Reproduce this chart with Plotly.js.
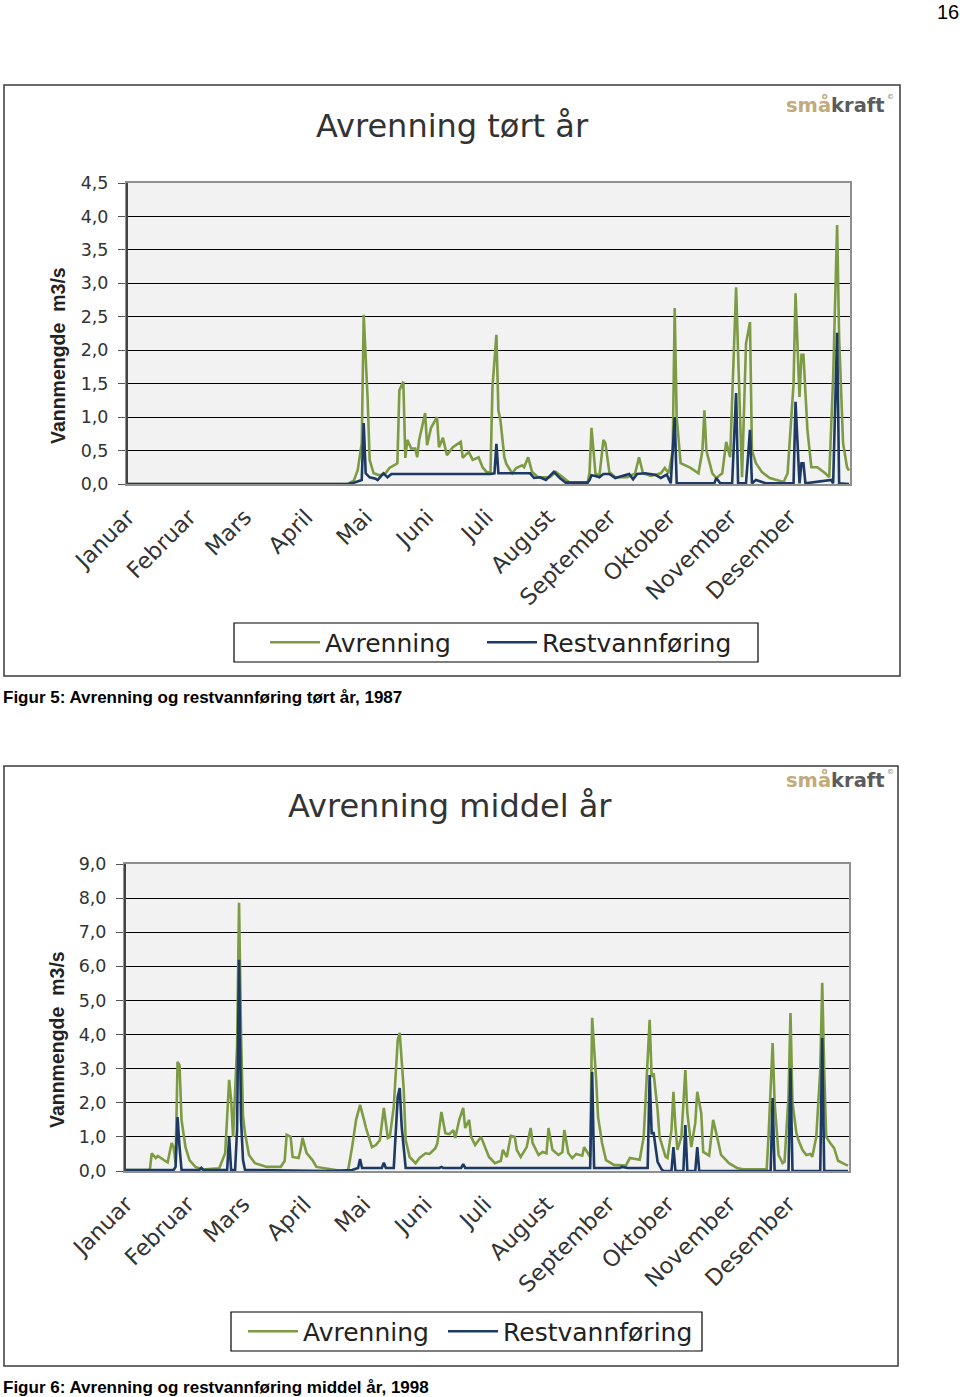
<!DOCTYPE html>
<html>
<head>
<meta charset="utf-8">
<script src="https://cdn.plot.ly/plotly-3.0.1.min.js"></script>
<style>
html,body{margin:0;padding:0;background:#fff;}
#chart{width:960px;height:1397px;}
</style>
</head>
<body>
<div id="chart"></div>
<script>
// ---------- DATA ----------
const months = ['Januar','Februar','Mars','April','Mai','Juni','Juli','August','September','Oktober','November','Desember'];
const monthStartDay = [1,32,60,91,121,152,182,213,244,274,305,335];

// Figur 5 – tørt år 1987 (day of year, m3/s)
const dryAvrDays = [1,112,115,117,119,120,122,123,125,128,131,133,137,138,140,141,142,144,146,147,148,151,152,154,157,158,160,162,165,169,170,173,175,178,180,182,184,185,187,188,189,191,192,195,197,200,201,203,205,208,214,217,221,224,233,234,235,237,239,241,242,244,247,253,257,259,261,265,270,272,274,276,277,278,280,285,289,291,292,293,296,298,301,303,305,306,308,310,311,313,315,316,318,321,325,332,334,337,338,340,341,342,344,346,349,353,355,357,359,360,362,364,365];
const dryAvr = [0,0,0.05,0.21,0.61,2.53,1.26,0.36,0.16,0.13,0.16,0.24,0.31,1.4,1.53,0.39,0.66,0.53,0.53,0.40,0.66,1.06,0.58,0.84,1.0,0.55,0.69,0.43,0.55,0.63,0.39,0.48,0.36,0.40,0.25,0.18,0.17,1.45,2.23,1.1,0.96,0.4,0.3,0.16,0.24,0.28,0.25,0.4,0.18,0.1,0.1,0.18,0.09,0.02,0.02,0.16,0.84,0.16,0.12,0.66,0.61,0.18,0.1,0.1,0.16,0.4,0.16,0.12,0.16,0.24,0.16,0.5,2.63,1.0,0.31,0.24,0.16,0.5,1.1,0.5,0.16,0.09,0.16,0.63,0.4,1.26,2.94,1.0,0.1,2.1,2.42,0.5,0.31,0.18,0.09,0.03,0.16,1.5,2.85,1.3,1.93,1.93,0.81,0.25,0.25,0.16,0.1,1.6,3.87,2.2,0.61,0.25,0.2];
const dryRestDays = [1,112,115,119,120,121,123,126,127,130,132,134,184,186,187,188,204,206,209,212,216,219,222,233,234,235,237,239,241,244,247,251,254,256,258,262,267,270,273,275,277,278,297,298,300,306,308,309,313,315,316,318,323,337,338,340,341,342,343,356,357,359,360,365];
const dryRest = [0,0,0.02,0.06,0.91,0.16,0.1,0.08,0.06,0.16,0.1,0.15,0.15,0.16,0.6,0.16,0.16,0.09,0.1,0.06,0.18,0.09,0.02,0.02,0.06,0.13,0.12,0.1,0.15,0.15,0.09,0.12,0.15,0.07,0.15,0.16,0.14,0.09,0.14,0.01,1.0,0.01,0.01,0.09,0.01,0.01,1.36,0.01,0.01,0.81,0.01,0.06,0.01,0.01,1.23,0.01,0.31,0.31,0.01,0.06,0.01,2.26,0.01,0];

// Figur 6 – middel år 1998
const midAvrDays = [1,10,13,14,16,17,20,22,24,25,26,27,28,29,31,33,36,40,43,48,51,53,54,55,57,58,59,60,61,63,66,72,79,81,82,84,85,88,89,90,92,95,97,104,110,113,115,117,119,121,122,125,127,129,131,133,134,136,138,139,141,142,144,147,149,152,154,157,158,160,162,164,166,167,169,171,172,174,175,177,180,182,184,187,190,191,193,195,197,198,200,203,205,206,209,211,213,214,216,219,221,222,224,226,228,231,232,235,236,238,239,241,243,247,251,253,255,258,260,262,263,265,266,267,269,270,273,274,276,277,278,279,281,283,284,286,288,289,291,292,295,297,299,301,305,309,312,324,325,327,328,330,332,333,335,336,337,339,340,342,344,346,347,349,351,352,353,354,356,358,360,362,364,365];
const midAvr = [0.03,0.02,0.03,0.52,0.38,0.44,0.32,0.25,0.82,0.7,0.23,3.2,3.1,1.5,0.7,0.32,0.12,0.04,0.06,0.08,0.52,2.67,2.08,1.0,3.64,7.86,4.0,1.6,1.11,0.47,0.23,0.12,0.12,0.3,1.06,1.0,0.41,0.38,0.62,0.97,0.53,0.32,0.12,0.05,0,0.03,0.7,1.5,1.94,1.5,1.26,0.7,0.76,0.91,1.85,0.97,1.0,1.88,3.84,4.05,2.4,0.91,0.41,0.23,0.38,0.52,0.5,0.67,0.82,1.73,1.11,1.08,1.2,0.97,1.5,1.85,1.26,1.5,1.0,0.76,1.0,0.7,0.41,0.23,0.3,0.62,0.41,1.03,1.0,0.62,0.41,0.7,1.26,0.82,0.47,0.56,0.52,1.26,0.62,0.47,0.55,1.2,0.52,0.38,0.5,0.45,0.7,0.41,4.49,2.7,1.58,0.82,0.32,0.18,0.18,0.16,0.38,0.36,0.33,1.0,2.17,4.43,2.76,2.87,1.79,1.0,0.42,0.38,1.2,2.32,1.29,0.62,1.0,2.96,1.7,0.7,1.41,2.32,1.7,0.56,0.45,1.5,1.0,0.47,0.23,0.09,0.05,0.05,1.11,3.75,2.0,0.47,0.23,0.27,2.17,4.63,2.0,1.11,0.91,0.62,0.47,0.5,0.42,1.0,2.96,5.52,2.96,1.0,0.82,0.67,0.3,0.23,0.18,0.16];
const midRestDays = [1,25,26,27,28,29,38,39,40,52,53,54,56,57,58,59,60,61,104,115,118,119,120,130,131,132,136,138,139,140,142,159,160,161,170,171,172,235,236,237,250,251,254,264,265,266,267,269,271,272,276,277,278,282,283,284,288,289,290,326,327,328,335,336,337,351,352,353,365];
const midRest = [0.03,0.03,0.12,1.58,0.7,0.03,0.03,0.09,0.03,0.03,1.0,0.03,0.03,1.2,6.19,1.5,0.32,0.03,0,0.03,0.09,0.35,0.09,0.09,0.24,0.09,0.09,2.17,2.43,1.29,0.09,0.09,0.12,0.09,0.09,0.2,0.09,0.09,2.9,0.09,0.09,0.12,0.09,0.09,2.81,1.11,1.11,0.27,0.05,0,0,0.7,0,0,1.35,0,0,0.7,0,0,2.14,0,0,3.02,0,0,3.9,0,0];

// ---------- STYLE ----------
const W = 960, H = 1397;
const X = p => p / W;
const Y = p => 1 - p / H;
const green = '#7d9b42', navy = '#1c3a63';
const chartFont = 'DejaVu Sans, Liberation Sans, sans-serif';
const tickFont = {family: chartFont, size: 17.5, color: '#333'};
const monthFont = {family: chartFont, size: 22.5, color: '#333'};

function xAxis(l, r, anchor) {
  return {domain: [X(l), X(r)], anchor: anchor, range: [0.5, 365.5], tickmode: 'array',
    tickvals: monthStartDay, ticktext: months, tickangle: -45, tickfont: monthFont,
    showgrid: false, zeroline: false, showline: true, mirror: true, linecolor: '#8f8f8f', linewidth: 2,
    layer: 'below traces', ticks: '', ticklabelstandoff: 9};
}
function yAxis(b, t, anchor, max, step) {
  return {domain: [Y(b), Y(t)], anchor: anchor, range: [0, max], dtick: step, tick0: 0,
    tickformat: '.1f', gridcolor: '#000', gridwidth: 1, zeroline: false,
    showline: true, mirror: true, linecolor: '#8f8f8f', linewidth: 2, layer: 'below traces',
    ticks: 'outside', ticklen: 7, tickcolor: '#555', tickfont: tickFont, ticklabelstandoff: 6};
}

const traces = [
  {x: dryAvrDays, y: dryAvr, xaxis: 'x', yaxis: 'y', name: 'Avrenning', mode: 'lines', line: {color: green, width: 2.6}, legend: 'legend'},
  {x: dryRestDays, y: dryRest, xaxis: 'x', yaxis: 'y', name: 'Restvannføring', mode: 'lines', line: {color: navy, width: 2.6}, legend: 'legend2'},
  {x: midAvrDays, y: midAvr, xaxis: 'x2', yaxis: 'y2', name: 'Avrenning', mode: 'lines', line: {color: green, width: 2.6}, legend: 'legend3'},
  {x: midRestDays, y: midRest, xaxis: 'x2', yaxis: 'y2', name: 'Restvannføring', mode: 'lines', line: {color: navy, width: 2.6}, legend: 'legend4'}
];

function legendAt(l, cy) {
  return {x: X(l), y: Y(cy), xanchor: 'left', yanchor: 'middle', orientation: 'h',
    font: {family: chartFont, size: 25, color: '#222'}, bgcolor: 'rgba(0,0,0,0)',
    borderwidth: 0, itemwidth: 50};
}

function box(l, t, r, b, color, width) {
  return {type: 'rect', xref: 'paper', yref: 'paper', x0: X(l), x1: X(r), y0: Y(b), y1: Y(t),
    line: {color: color, width: width}, fillcolor: 'rgba(0,0,0,0)', layer: 'below'};
}
function leftEdge(xa, ya) {
  return {type: 'line', xref: xa + ' domain', yref: ya + ' domain', x0: 0, x1: 0, y0: 0, y1: 1,
    line: {color: '#444', width: 2}, layer: 'above'};
}

function logo(cx, cy) {
  return [
    {xref: 'paper', yref: 'paper', x: X(cx), y: Y(cy), showarrow: false, xanchor: 'center', yanchor: 'middle',
      text: '<b><span style="color:#c2ab79">små</span><span style="color:#5b5b5b">kraft</span></b>',
      font: {family: 'DejaVu Sans, sans-serif', size: 19.5}},
    {xref: 'paper', yref: 'paper', x: X(cx + 55), y: Y(cy - 8), showarrow: false, xanchor: 'center', yanchor: 'middle',
      text: '©', font: {family: 'DejaVu Sans, sans-serif', size: 7, color: '#777'}}
  ];
}

const capFont = {family: 'Liberation Sans, Arial, sans-serif', size: 17, color: '#000'};
const annotations = [
  {xref: 'paper', yref: 'paper', x: X(948), y: Y(12), showarrow: false, xanchor: 'center', yanchor: 'middle',
    text: '16', font: {family: 'Liberation Sans, Arial, sans-serif', size: 20, color: '#000'}},
  {xref: 'paper', yref: 'paper', x: X(452), y: Y(126), showarrow: false, xanchor: 'center', yanchor: 'middle',
    text: 'Avrenning tørt år', font: {family: chartFont, size: 32, color: '#333'}},
  {xref: 'paper', yref: 'paper', x: X(450), y: Y(806), showarrow: false, xanchor: 'center', yanchor: 'middle',
    text: 'Avrenning middel år', font: {family: chartFont, size: 32, color: '#333'}},
  {xref: 'paper', yref: 'paper', x: X(58), y: Y(356), showarrow: false, textangle: -90, xanchor: 'center', yanchor: 'middle',
    text: '<b>Vannmengde  m3/s</b>', font: {family: 'Liberation Sans, Arial, sans-serif', size: 19.5, color: '#222'}},
  {xref: 'paper', yref: 'paper', x: X(57), y: Y(1040), showarrow: false, textangle: -90, xanchor: 'center', yanchor: 'middle',
    text: '<b>Vannmengde  m3/s</b>', font: {family: 'Liberation Sans, Arial, sans-serif', size: 19.5, color: '#222'}},
  {xref: 'paper', yref: 'paper', x: X(1), y: Y(697), showarrow: false, xanchor: 'left', yanchor: 'middle',
    text: '<b>Figur 5: Avrenning og restvannføring tørt år, 1987</b>', font: capFont},
  {xref: 'paper', yref: 'paper', x: X(1), y: Y(1387), showarrow: false, xanchor: 'left', yanchor: 'middle',
    text: '<b>Figur 6: Avrenning og restvannføring middel år, 1998</b>', font: capFont}
].concat(logo(835, 105), logo(835, 780));

const layout = {
  width: W, height: H, margin: {l: 0, r: 0, t: 0, b: 0}, autosize: false,
  paper_bgcolor: '#fff', plot_bgcolor: '#f2f2f2', separators: ', ',
  showlegend: true,
  xaxis: xAxis(127, 850, 'y'),
  yaxis: yAxis(484, 183, 'x', 4.5, 0.5),
  xaxis2: xAxis(125, 849, 'y2'),
  yaxis2: yAxis(1171, 864, 'x2', 9, 1),
  legend: legendAt(265, 642.5),
  legend2: legendAt(482, 642.5),
  legend3: legendAt(243, 1331.5),
  legend4: legendAt(443, 1331.5),
  shapes: [
    box(4, 85, 900, 676, '#3a3a3a', 1.5), box(4, 766, 898, 1366, '#3a3a3a', 1.5),
    box(234, 623, 758, 662, '#000', 1.2), box(231, 1312, 702, 1351, '#000', 1.2),
    leftEdge('x', 'y'), leftEdge('x2', 'y2')
  ],
  annotations: annotations
};

Plotly.newPlot('chart', traces, layout, {staticPlot: true, displayModeBar: false});
</script>
</body>
</html>
